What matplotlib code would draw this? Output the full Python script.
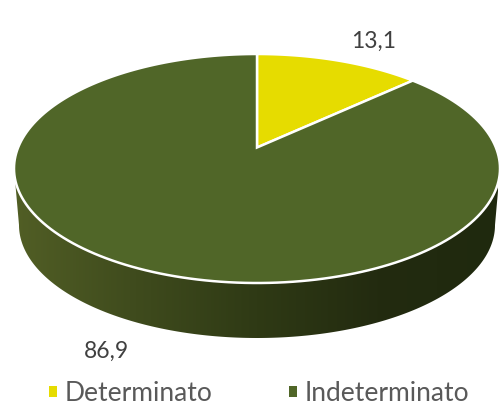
#!/usr/bin/env python3

import numpy as np
import matplotlib
matplotlib.use("Agg")
import matplotlib.pyplot as plt
from matplotlib.colors import LinearSegmentedColormap
from matplotlib.patches import Patch, Polygon

categories = ["Determinato", "Indeterminato"]
values = [13.1, 86.9]

colors = ["#e6dc00", "#506628"]
side_colors = ["#515e25", "#3f4b1d", "#2f3a15", "#232b10", "#1f290e"]

plt.rcParams["font.family"] = ["Lato", "DejaVu Sans"]

# ellipse of the top face, in pixels
CX, CY = 257.0, 168.5
RX, RY = 243.0, 114.5
APEX_UP = 21.0
K = 2 * APEX_UP / (2 * RY)


def project(u, v):
    # unit circle -> tilted disc with some perspective
    d = 1 + K * v
    x = CX + RX * np.sqrt(1 - K**2) * u / d
    y = CY - (RY * v + APEX_UP) / d
    return x, y


def slice_points(start, stop):
    t = np.radians(np.linspace(start, stop, 200))
    x, y = project(np.sin(t), np.cos(t))
    ax0, ay0 = project(0.0, 0.0)
    return np.column_stack([np.r_[ax0, x], np.r_[ay0, y]])


fig = plt.figure(figsize=(5.02, 4.05), dpi=100)
ax = fig.add_axes([0, 0, 1, 1])
ax.set_xlim(0, 502)
ax.set_ylim(405, 0)
ax.axis("off")

# side wall: lower half of the top rim + lower half of the bottom rim
t = np.linspace(0, np.pi, 300)
top_x = CX + RX * np.cos(t)
top_y = CY + RY * np.sin(t)
bot_x = CX + 238 * np.cos(t)
bot_y = 225 + 113 * np.sin(t)
wall = Polygon(
    np.column_stack([np.r_[top_x, bot_x[::-1]], np.r_[top_y, bot_y[::-1]]]),
    closed=True, facecolor="none", edgecolor="none",
)
ax.add_patch(wall)
cmap = LinearSegmentedColormap.from_list("wall", side_colors)
img = ax.imshow(
    np.linspace(0, 1, 256)[None, :], cmap=cmap, aspect="auto",
    extent=(15, 498, 345, 160), zorder=1,
)
img.set_clip_path(wall)
ax.set_xlim(0, 502)
ax.set_ylim(405, 0)

# top face
angles = np.cumsum([0] + values) / sum(values) * 360
for i, name in enumerate(categories):
    ax.add_patch(Polygon(
        slice_points(angles[i], angles[i + 1]), closed=True,
        facecolor=colors[i], edgecolor="white", linewidth=1.8, zorder=2,
    ))

ax.text(374, 41, f"{values[0]:.1f}".replace(".", ","), fontsize=16.5,
        color="#404040", ha="center", va="center")
ax.text(106, 351, f"{values[1]:.1f}".replace(".", ","), fontsize=16.5,
        color="#404040", ha="center", va="center")

handles = [Patch(facecolor=c, edgecolor="none") for c in colors]
ax.legend(
    handles, categories, loc="center left", bbox_to_anchor=(0.0976, 0.028),
    ncol=2, frameon=False, fontsize=19, labelcolor="#595959",
    handlelength=0.3, handleheight=0.3, handletextpad=0.3,
    columnspacing=2.88, borderpad=0, borderaxespad=0,
)

fig.savefig("out.png", dpi=100)
